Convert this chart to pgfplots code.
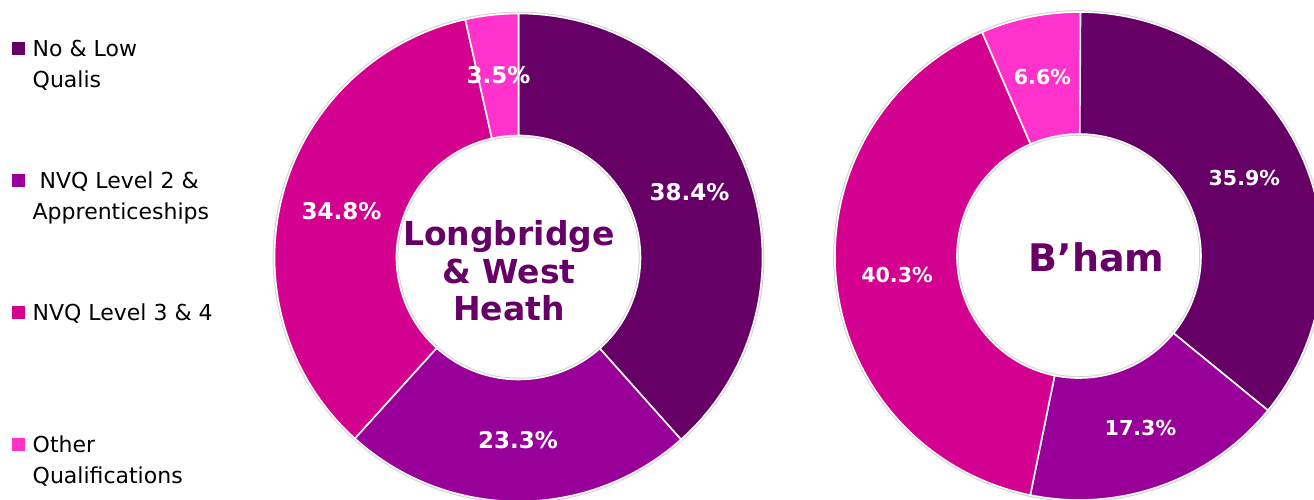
\documentclass[border=0pt]{standalone}
\usepackage{pgfplots}
\pgfplotsset{compat=1.18}
\usepackage{pgfplotstable}
\usepackage{fontspec}
\setmainfont{DejaVu Sans}

\definecolor{c1}{HTML}{660066}
\definecolor{c2}{HTML}{990099}
\definecolor{c3}{HTML}{D4008F}
\definecolor{c4}{HTML}{FF33CC}

% Longbridge & West Heath
\pgfplotstableread{
cat value
1 38.4
2 23.3
3 34.8
4 3.5
}\tableLWH
% Birmingham
\pgfplotstableread{
cat value
1 35.9
2 17.3
3 40.3
4 6.6
}\tableBham

\tikzset{
  lblL/.style={font=\bfseries\fontsize{11.5pt}{13pt}\selectfont},
  lblR/.style={font=\bfseries\fontsize{10.3pt}{12pt}\selectfont},
}

% #1 table, #2 cx, #3 cy (axis units = px), #4 label style
\newcommand\donut[4]{%
  \pgfplotstablegetrowsof{#1}%
  \pgfmathtruncatemacro\nrows{\pgfplotsretval-1}%
  \draw[gray!35,line width=1pt] (axis cs:#2,#3) circle[radius=122.4pt];
  \draw[gray!35,line width=1pt] (axis cs:#2,#3) circle[radius=60.6pt];
  \xdef\curang{90}%
  \foreach \i in {0,...,\nrows}{%
    \pgfplotstablegetelem{\i}{value}\of{#1}%
    \let\val\pgfplotsretval
    \pgfmathsetmacro\endang{\curang-3.6*\val}%
    \pgfmathtruncatemacro\ci{\i+1}%
    \edef\temp{%
      \noexpand\fill[c\ci,draw=white,line width=0.8pt] (axis cs:#2,#3) ++(\curang:122pt) arc[start angle=\curang,end angle=\endang,radius=122pt] -- ++(\endang:-61pt) arc[start angle=\endang,end angle=\curang,radius=61pt] -- cycle;%
    }%
    \temp
    \xdef\curang{\endang}%
  }%
  \xdef\curang{90}%
  \foreach \i in {0,...,\nrows}{%
    \pgfplotstablegetelem{\i}{value}\of{#1}%
    \let\val\pgfplotsretval
    \pgfmathsetmacro\endang{\curang-3.6*\val}%
    \pgfmathsetmacro\midang{(\curang+\endang)/2}%
    \edef\temp{%
      \noexpand\node[#4,text=white,inner sep=0pt] at ([shift={(\midang:91.5pt)}]axis cs:#2,#3) {\val\noexpand\%};%
    }%
    \temp
    \xdef\curang{\endang}%
  }%
}

\begin{document}
\begin{tikzpicture}
\begin{axis}[
  x=0.5pt, y=0.5pt,
  xmin=0, xmax=1314, ymin=0, ymax=499,
  y dir=reverse,
  hide axis, clip=false,
  legend cell align=left,
  legend image code/.code={\path (0pt,0pt); \fill[#1,draw=none] (0pt,0.75pt) rectangle (6.3pt,7.05pt);},
  legend style={at={(axis cs:11.7,34.3)}, anchor=north west, draw=none, fill=none,
    inner sep=0pt, row sep=0pt, column sep=4pt,
    font=\fontsize{11pt}{15.5pt}\selectfont,
    nodes={inner sep=0pt, text depth=}, cells={anchor=base west}},
]
\donut{\tableLWH}{518.5}{257.5}{lblL}
\donut{\tableBham}{1079}{256}{lblR}

\node[align=center, text=c1, inner sep=0pt,
  font=\bfseries\fontsize{16.5pt}{18.75pt}\selectfont]
  at (axis cs:509,271) {Longbridge\\\& West\\Heath};
\node[anchor=base, text=c1, inner sep=0pt,
  font=\bfseries\fontsize{19pt}{22pt}\selectfont]
  at (axis cs:1096.7,271.7) {B’ham};

\addlegendimage{fill=c1,draw=none}
\addlegendentry{\parbox[t][66pt][t]{130pt}{\strut No \& Low\\Qualis}}
\addlegendimage{fill=c2,draw=none}
\addlegendentry{\parbox[t][66pt][t]{130pt}{\strut\ NVQ Level 2 \&\\Apprenticeships}}
\addlegendimage{fill=c3,draw=none}
\addlegendentry{\parbox[t][66pt][t]{130pt}{\strut NVQ Level 3 \& 4}}
\addlegendimage{fill=c4,draw=none}
\addlegendentry{\parbox[t][66pt][t]{130pt}{\strut Other\\Qualifications}}

\coordinate (BL) at (axis cs:0,499);
\coordinate (TR) at (axis cs:1314,0);
\end{axis}
\pgfresetboundingbox
\useasboundingbox (BL) rectangle (TR);
\end{tikzpicture}
\end{document}
